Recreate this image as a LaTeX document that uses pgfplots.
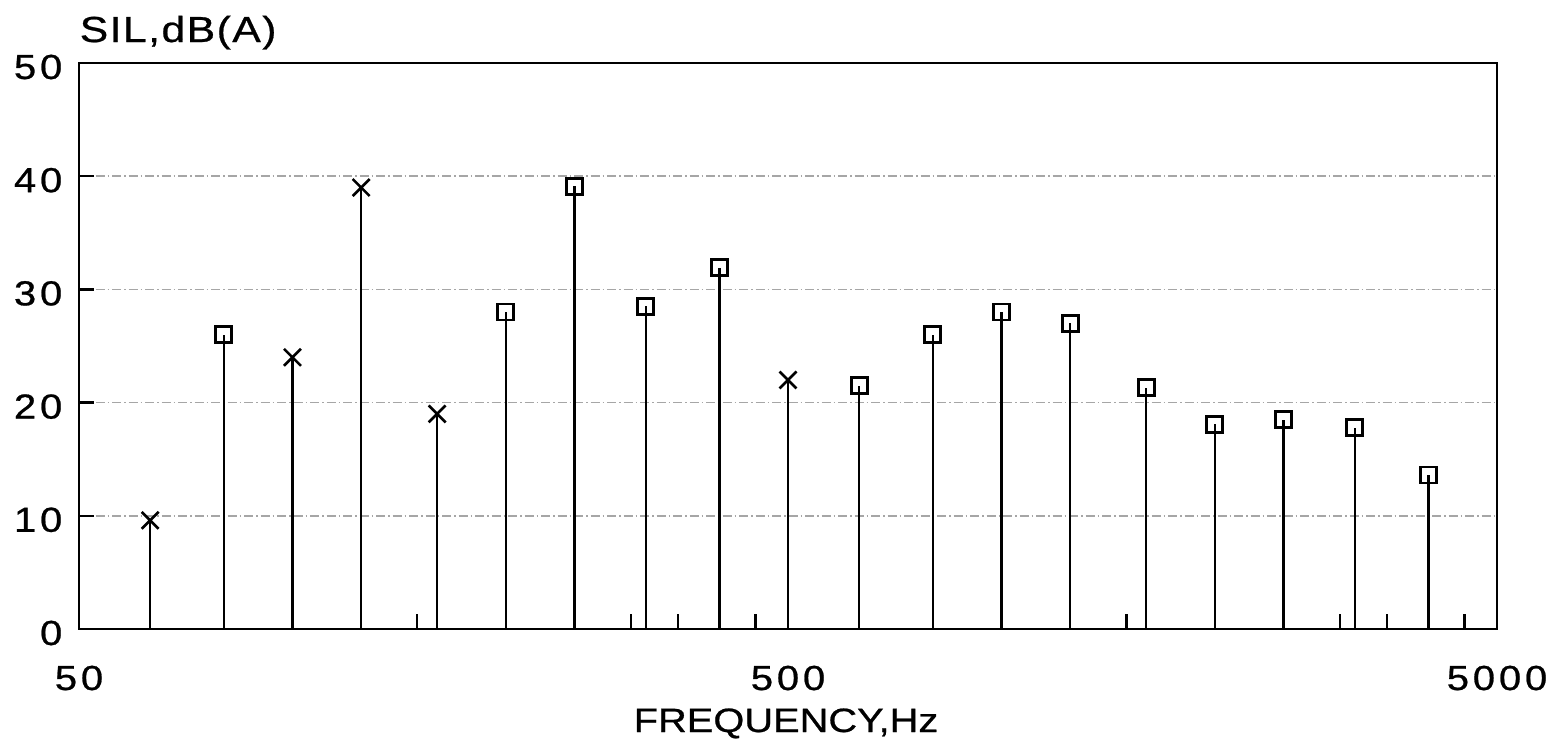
\documentclass[border=0pt]{standalone}
\usepackage{pgfplots}
\pgfplotsset{compat=1.18}
\usepackage{fontspec}
\setmainfont[FakeStretch=1.18,FakeBold=0.7]{Liberation Sans}
\newfontfamily\digitfont[FakeStretch=1.15,LetterSpace=11,FakeBold=0.7]{Liberation Sans}
\newfontfamily\titlefont[FakeStretch=1.18,LetterSpace=4,FakeBold=0.7]{Liberation Sans}
\begin{document}
\begin{tikzpicture}
\useasboundingbox (-7.9mm,-11.8mm) rectangle (147.8mm,62.9mm);
\begin{axis}[
  at={(0,0)}, anchor=south west,
  scale only axis,
  width=141.8mm, height=56.6mm,
  xmode=log, log basis x=10,
  xmin=50, xmax=5000, ymin=0, ymax=50,
  axis line style={black, line width=0.24mm},
  tick align=inside, tick pos=left,
  major tick length=1.55mm,
  every tick/.style={black, line width=0.24mm},
  xtick={150,300,350,450,1500,3000,3500,4500},
  xticklabels={{},{},{},{},{},{},{},{}},
  minor xtick={},
  extra x ticks={50,500,5000},
  extra x tick labels={50,500,5000},
  extra x tick style={major tick length=0pt},
  xticklabel style={font=\fontsize{9.9pt}{11pt}\digitfont, anchor=north, inner sep=0pt, yshift=-3.6mm},
  ytick={0,10,20,30,40,50},
  yticklabels={0,10,20,30,40,50},
  yticklabel style={font=\fontsize{9.9pt}{11pt}\digitfont, anchor=east, inner sep=0pt, xshift=-1.6mm, yshift=-0.4mm},
  ymajorgrids,
  grid style={gray!70, line width=0.15mm, dash pattern=on 0.9mm off 0.3mm on 0.15mm off 0.3mm},
  xlabel={FREQUENCY,Hz},
  xlabel style={font=\fontsize{9.6pt}{11pt}\selectfont, at={(axis description cs:0.5,0)}, anchor=base, inner sep=0pt, yshift=-10.3mm, xshift=-0.2mm},
  ylabel={SIL,dB(A)},
  ylabel style={rotate=-90, font=\fontsize{10.3pt}{11pt}\titlefont, at={(axis description cs:0,1)}, anchor=base west, inner sep=0pt, yshift=2.1mm},
]
\addplot[ycomb, black, line width=0.24mm, mark=x, mark size=1.2mm, mark options={solid, line width=0.26mm}] coordinates {
  (63,9.6) (100,24.0) (125,39.0) (160,19.0) (500,22.0)
};
\addplot[ycomb, black, line width=0.24mm, mark=square, mark size=0.8mm, mark options={solid, line width=0.28mm}] coordinates {
  (80,26.0) (200,28.0) (250,39.1) (315,28.5) (400,31.9) (630,21.5) (800,26.0)
  (1000,28.0) (1250,27.0) (1600,21.3) (2000,18.1) (2500,18.5) (3150,17.8) (4000,13.6)
};
\end{axis}
\end{tikzpicture}
\end{document}
